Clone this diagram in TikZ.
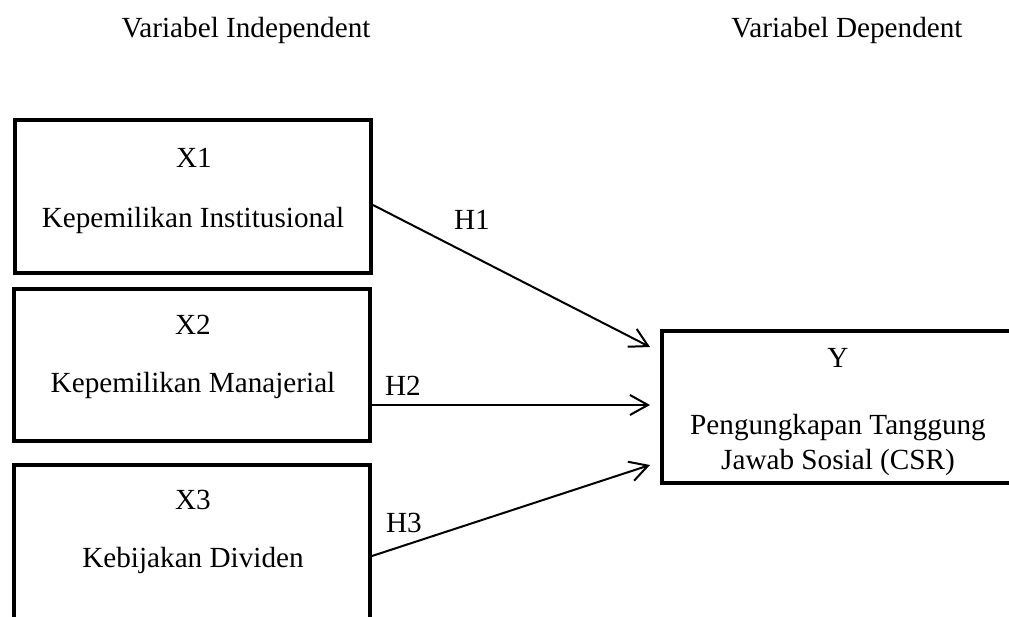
\documentclass[tikz,border=0pt]{standalone}
\usepackage{fontspec}
\setmainfont{Liberation Serif}
\usetikzlibrary{arrows.meta}
\begin{document}
\begin{tikzpicture}[x=1pt,y=-1pt,
  box/.style={draw, line width=4pt, rectangle, inner sep=0pt},
  txt/.style={font=\fontsize{29.2}{34}\selectfont, inner sep=0pt, anchor=center},
  link/.style={line width=2pt, -{Straight Barb[length=18pt,width=20pt,line width=2pt]}}
]
\useasboundingbox (0,0) rectangle (1009,617);
\clip (0,0) rectangle (1009,617);
\node[txt] (hi) at (246,30) {Variabel Independent};
\node[txt] (hd) at (847,30) {Variabel Dependent};
\node[box, minimum width=356pt, minimum height=153pt] (x1) at (193,196.5) {};
\node[box, minimum width=356pt, minimum height=152pt] (x2) at (192,365) {};
\node[box, minimum width=356pt, minimum height=200pt] (x3) at (192,565) {};
\node[box, minimum width=408pt, minimum height=152pt] (y) at (866,407) {};
\node[txt] (x1a) at (194,158) {X1};
\node[txt] (x1b) at (193,220) {Kepemilikan Institusional};
\node[txt] (x2a) at (193,325) {X2};
\node[txt] (x2b) at (193,385) {Kepemilikan Manajerial};
\node[txt] (x3a) at (193,500) {X3};
\node[txt] (x3b) at (193,560) {Kebijakan Dividen};
\node[txt] (ya) at (838,358) {Y};
\node[txt] (yb) at (838,428) {Pengungkapan Tanggung};
\node[txt] (yc) at (838,462) {Jawab Sosial (CSR)};
\draw[link] ([yshift=-8.5pt]x1.east) -- ([xshift=-10pt,yshift=60pt]y.west);
\draw[link] ([yshift=-40pt]x2.east) -- ([xshift=-10pt,yshift=2pt]y.west);
\draw[link] ([yshift=9pt]x3.east) -- ([xshift=-10pt,yshift=-58pt]y.west);
\node[txt] (h1) at (472,220) {H1};
\node[txt] (h2) at (403,386) {H2};
\node[txt] (h3) at (404,523) {H3};
\end{tikzpicture}
\end{document}
